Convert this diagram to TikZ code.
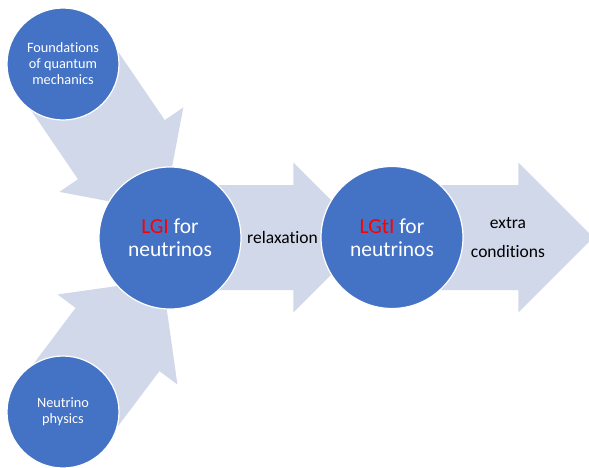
\documentclass[tikz,border=0pt]{standalone}
\usepackage{fontspec}
\setmainfont{Carlito}[Ligatures={NoCommon,NoRare}]
\usetikzlibrary{calc}
\definecolor{circblue}{HTML}{4472C4}
\definecolor{arrfill}{HTML}{D1D8EA}
\definecolor{lgred}{HTML}{FF0000}
\newcommand\blockarrow[2]{%
  \fill[arrfill] ($(#1)!52.5pt!-90:(#2)$) -- ($(#2)!52.5pt!90:(#1)$)
    -- ($(#2)!75pt!90:(#1)$) -- ($(#2)!75pt!180:(#1)$)
    -- ($(#2)!75pt!-90:(#1)$) -- ($(#2)!52.5pt!-90:(#1)$)
    -- ($(#1)!52.5pt!90:(#2)$) -- cycle;}
\tikzset{
  bluecirc/.style={circle, fill=circblue, draw=white, line width=1.2pt, inner sep=0pt, text=white, align=center},
  smallcirc/.style={bluecirc, minimum size=112pt, font=\fontsize{14.3}{16}\selectfont},
  bigcirc/.style={bluecirc, minimum size=142pt, font=\fontsize{21.5}{23}\selectfont},
  lbl/.style={text=black, align=center, inner sep=0pt}
}
\begin{document}
\begin{tikzpicture}[x=1pt,y=-1pt]
\useasboundingbox (0,0) rectangle (589,467);
\clip (0,0) rectangle (589,467);
% arrow geometry
\coordinate (t1) at (63,64);   \coordinate (m1) at (121.35,149.65);
\coordinate (t2) at (63,412);  \coordinate (m2) at (117.5,339.5);
\coordinate (t3) at (170,237.5); \coordinate (m3) at (293.3,237.5);
\coordinate (t4) at (392,237.5); \coordinate (m4) at (518.3,237.5);
\blockarrow{t1}{m1}
\blockarrow{t2}{m2}
\blockarrow{t3}{m3}
\blockarrow{t4}{m4}
% circles
\node[smallcirc] (fqm) at (63,64) {Foundations\\of quantum\\mechanics};
\node[smallcirc] (np) at (63,412) {Neutrino\\physics};
\node[bigcirc] (lgi) at (170,238) {\textcolor{lgred}{LGI} for\\neutrinos};
\node[bigcirc] (lgti) at (392,237.5) {\textcolor{lgred}{LGtI} for\\neutrinos};
% labels
\node[lbl, font=\fontsize{17.5}{21}\selectfont] (rel) at (282.5,237.5) {relaxation};
\node[lbl, font=\fontsize{17.5}{29}\selectfont] (ext) at (508,237.5) {extra\\conditions};
\end{tikzpicture}
\end{document}
